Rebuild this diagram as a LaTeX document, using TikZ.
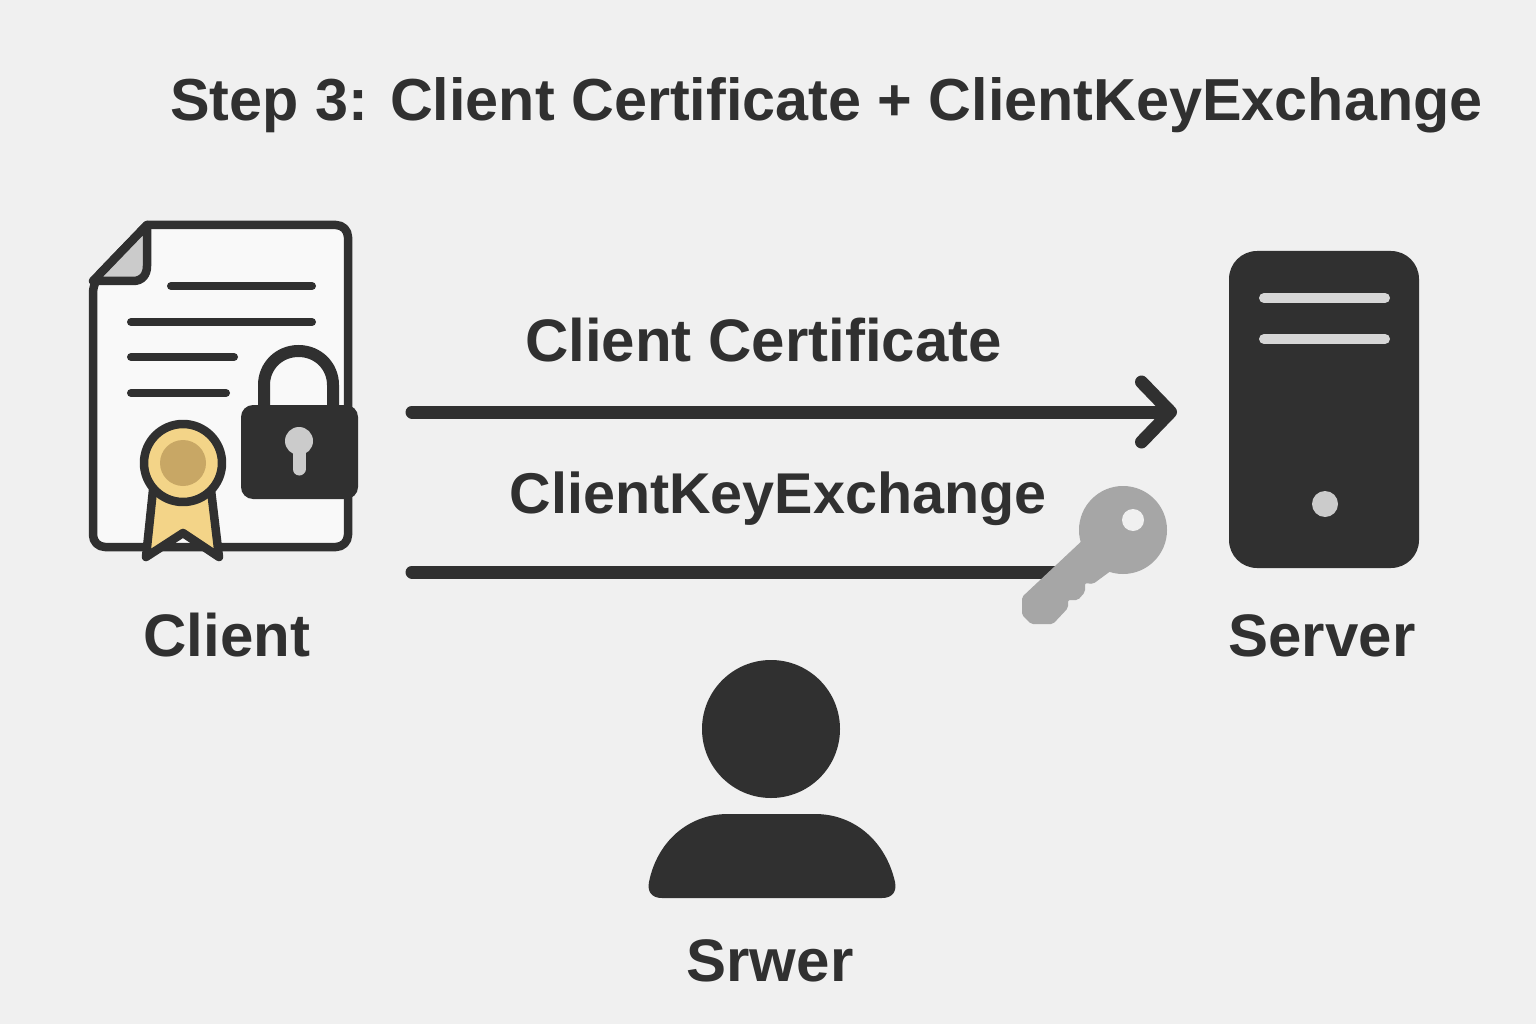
\documentclass[tikz,border=0pt]{standalone}
\usepackage{fontspec}
\setmainfont{Liberation Sans}
\usetikzlibrary{arrows.meta}
\definecolor{inkdark}{HTML}{303030}
\definecolor{pagebg}{HTML}{F0F0F0}
\definecolor{sheet}{HTML}{F9F9F9}
\definecolor{foldgray}{HTML}{CBCBCB}
\definecolor{slotgray}{HTML}{D6D6D6}
\definecolor{keygray}{HTML}{A6A6A6}
\definecolor{gold}{HTML}{F3D488}
\definecolor{golddark}{HTML}{C8A765}
\tikzset{title/.style={anchor=base,text=inkdark,font=\fontsize{59.3}{66}\selectfont\bfseries},
	 lbl/.style={anchor=base,text=inkdark,font=\fontsize{60}{66}\selectfont\bfseries},
	 outline/.style={draw=inkdark,line width=8.5pt,line join=round},
	 textline/.style={draw=inkdark,line width=8pt,line cap=round},
	 flow/.style={draw=inkdark,line width=13pt,line cap=round},
	 slot/.style={draw=slotgray,line width=10pt,line cap=round}
	 }
\begin{document}
\begin{tikzpicture}[x=1pt,y=-1pt]% all coordinates in reference pixels
        \fill[pagebg] (0,0) rectangle (1536,1024);
        \node[title] (ttl) at (826.5,121) {Step 3: Client Certificate + ClientKeyExchange};
        % certificate sheet
        \draw[outline,fill=sheet,rounded corners=12pt] (147,225) -- (348,225) -- (348,547) -- (93,547) -- (93,281) [sharp corners] -- cycle;
        \draw[outline,fill=foldgray] (93,281) -- (133,281) .. controls (142,281) and (147,275) .. (147,266) -- (147,225) -- cycle;
        \draw[textline] (171,286) -- (312,286);
        \draw[textline] (131,322) -- (312,322);
        \draw[textline] (131,357) -- (234,357);
        \draw[textline] (131,393) -- (226,393);
        % lock
        \draw[draw=inkdark,line width=12pt] (264,408) -- (264,385) .. controls (264,366) and (279,351) .. (298.5,351) .. controls (318,351) and (333,366) .. (333,385) -- (333,408);
        \fill[inkdark,rounded corners=12pt] (241,405) rectangle (358,499);
        \fill[foldgray] (299,441) circle[radius=14pt];
        \draw[draw=foldgray,line width=13pt,line cap=round] (299,445) -- (299,469);
        % medal
        \draw[outline,fill=gold] (153,490) -- (146,557) -- (183,533) -- (219,557) -- (211,490) -- cycle;
        \draw[outline,fill=gold] (183,463) circle[radius=39pt];
        \fill[golddark] (183,463) circle[radius=23pt];
        % connectors
        \coordinate (certa) at (412,412);
        \coordinate (certb) at (1177,412);
        \coordinate (keya) at (412,572);
        \coordinate (keyb) at (1060,572);
        \draw[flow,-{Straight Barb[length=29pt,width=60pt,line width=13pt,round]}] (certa) -- (certb);
        \draw[flow] (keya) -- (keyb);
        \node[lbl] (lcert) at (763.5,361) {Client Certificate};
        \node[lbl,font=\fontsize{57.5}{66}\selectfont\bfseries] (lkey) at (778,513) {ClientKeyExchange};
        % key
        \fill[keygray] (1123,530) circle[radius=44pt];
        \fill[keygray,rounded corners=2pt] (1086,537) -- (1022,597) -- (1022,615) -- (1031,624) -- (1053,624) -- (1068,608) -- (1068,600) -- (1078,600) -- (1085,592) -- (1085,583) -- (1093,584) -- (1112,570) -- cycle;
        \fill[pagebg] (1133,520) circle[radius=11pt];
        % server
        \fill[inkdark,rounded corners=28pt] (1229,251) rectangle (1419,568);
        \draw[slot] (1264,298) -- (1385,298);
        \draw[slot] (1264,339) -- (1385,339);
        \fill[foldgray] (1325,504) circle[radius=13pt];
        % person
        \fill[inkdark] (771,729) circle[radius=69pt];
        \fill[inkdark] (662,898) -- (882,898) .. controls (892,898) and (897,892) .. (895,882) .. controls (886,842) and (855,814) .. (815,814) -- (728,814) .. controls (688,814) and (657,842) .. (649,882) .. controls (647,892) and (652,898) .. (662,898) -- cycle;
        \node[lbl] (cli) at (227,656) {Client};
        \node[lbl] (srv) at (1322,656) {Server};
        \node[lbl] (usr) at (770,981) {Srwer};
     \end{tikzpicture}
\end{document}
